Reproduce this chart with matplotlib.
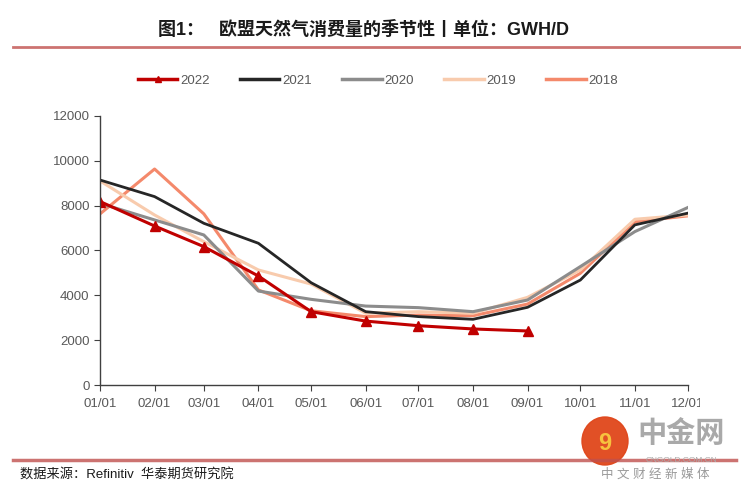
import matplotlib.pyplot as plt
from matplotlib.transforms import Bbox
from matplotlib.patches import Ellipse
from matplotlib.lines import Line2D

plt.rcParams['font.family'] = ['Liberation Sans', 'Noto Sans CJK SC', 'DejaVu Sans']

# day-of-year positions of the first of each month
month_days = [0, 31, 59, 90, 120, 151, 181, 212, 243, 273, 304, 334]
month_labels = ["01/01", "02/01", "03/01", "04/01", "05/01", "06/01",
                "07/01", "08/01", "09/01", "10/01", "11/01", "12/01"]

v2022 = [8180, 7090, 6170, 4860, 3270, 2850, 2645, 2500, 2410]
v2021 = [9140, 8400, 7210, 6320, 4560, 3270, 3050, 2930, 3465, 4680, 7140, 7660]
v2020 = [8100, 7360, 6690, 4190, 3820, 3520, 3450, 3270, 3790, 5280, 6840, 7910]
v2019 = [9100, 7580, 6390, 5130, 4500, 3200, 3270, 3200, 3910, 5130, 7390, 7580]
v2018 = [7630, 9630, 7630, 4240, 3310, 3050, 3120, 3090, 3610, 4980, 7280, 7540]

yticks = [0, 2000, 4000, 6000, 8000, 10000, 12000]

c2022 = '#C00000'
c2021 = '#262626'
c2020 = '#8C8C8C'
c2019 = '#F8CBAD'
c2018 = '#F4896B'

fig = plt.figure(figsize=(7.41, 4.93), dpi=100)
ax = fig.add_axes([0.135, 0.219, 0.793, 0.546])

ax.plot(month_days, v2018, color=c2018, lw=2.2)
ax.plot(month_days, v2019, color=c2019, lw=2.2)
ax.plot(month_days, v2020, color=c2020, lw=2.2)
ax.plot(month_days, v2021, color=c2021, lw=2.0)
ax.plot(month_days[:len(v2022)], v2022, color=c2022, lw=2.2,
        marker='^', markersize=6.5)

ax.set_xlim(0, 334)
ax.set_ylim(0, 12000)
ax.set_yticks(yticks)
ax.set_yticklabels([str(v) for v in yticks])
ax.set_xticks(month_days)
# last label is drawn separately so that it can be cut like in the original
ax.set_xticklabels(month_labels[:-1] + [''])
ax.tick_params(colors='#404040', labelsize=9.5, length=4, direction='out')
ax.tick_params(axis='x', pad=5.5)
for lab in ax.get_xticklabels() + ax.get_yticklabels():
    lab.set_color('#595959')
for s in ['top', 'right']:
    ax.spines[s].set_visible(False)
for s in ['left', 'bottom']:
    ax.spines[s].set_color('#404040')
    ax.spines[s].set_linewidth(1.0)

last = ax.annotate(month_labels[-1], xy=(month_days[-1], 0),
                   xycoords=('data', 'axes fraction'), xytext=(0, -9.5),
                   textcoords='offset points', ha='center', va='top',
                   fontsize=9.5, color='#595959', annotation_clip=False)
last.set_clip_box(Bbox.from_extents(0, 0, 700, 493))
last.set_clip_on(True)

handles = [Line2D([], [], color=c2022, lw=2.5, marker='^', markersize=4),
           Line2D([], [], color=c2021, lw=2.5),
           Line2D([], [], color=c2020, lw=2.5),
           Line2D([], [], color=c2019, lw=2.5),
           Line2D([], [], color=c2018, lw=2.5)]
leg = fig.legend(handles, ['2022', '2021', '2020', '2019', '2018'],
                 loc='center', bbox_to_anchor=(0.510, 0.836), ncol=5,
                 frameon=False, fontsize=9.5, handlelength=3.0, numpoints=1,
                 columnspacing=2.3, handletextpad=0.2)
for t in leg.get_texts():
    t.set_color('#595959')

fig.text(0.491, 0.94, '图1：   欧盟天然气消费量的季节性丨单位：GWH/D',
         ha='center', va='center', fontsize=13, fontweight='bold', color='#1a1a1a')
fig.add_artist(Line2D([0.018, 1.0], [0.905, 0.905], color='#C0504D',
                      lw=2, alpha=0.8, transform=fig.transFigure))
fig.add_artist(Line2D([0.018, 0.993], [0.067, 0.067], color='#C0504D',
                      lw=2.5, alpha=0.8, transform=fig.transFigure))
fig.text(0.027, 0.036, '数据来源：Refinitiv  华泰期货研究院',
         ha='left', va='center', fontsize=9.5, color='#1a1a1a')

# watermark
fig.add_artist(Ellipse((605 / 741, 1 - 441 / 493), 46 / 741, 48 / 493,
                       transform=fig.transFigure, color='#E0461A', alpha=0.95))
fig.text(605 / 741, 1 - 443 / 493, '9', ha='center', va='center', fontsize=17,
         fontweight='bold', color='#F7C23E')
fig.text(681 / 741, 1 - 434 / 493, '中金网', ha='center', va='center',
         fontsize=21, fontweight='bold', color='#9a9a9a', alpha=0.85)
fig.text(681 / 741, 1 - 461 / 493, 'CNGOLD.COM.CN', ha='center', va='center',
         fontsize=6, color='#aaaaaa')
fig.text(655 / 741, 1 - 475 / 493, '中 文 财 经 新 媒 体', ha='center', va='center',
         fontsize=9, color='#9a9a9a')

fig.savefig('out.png', dpi=100)
